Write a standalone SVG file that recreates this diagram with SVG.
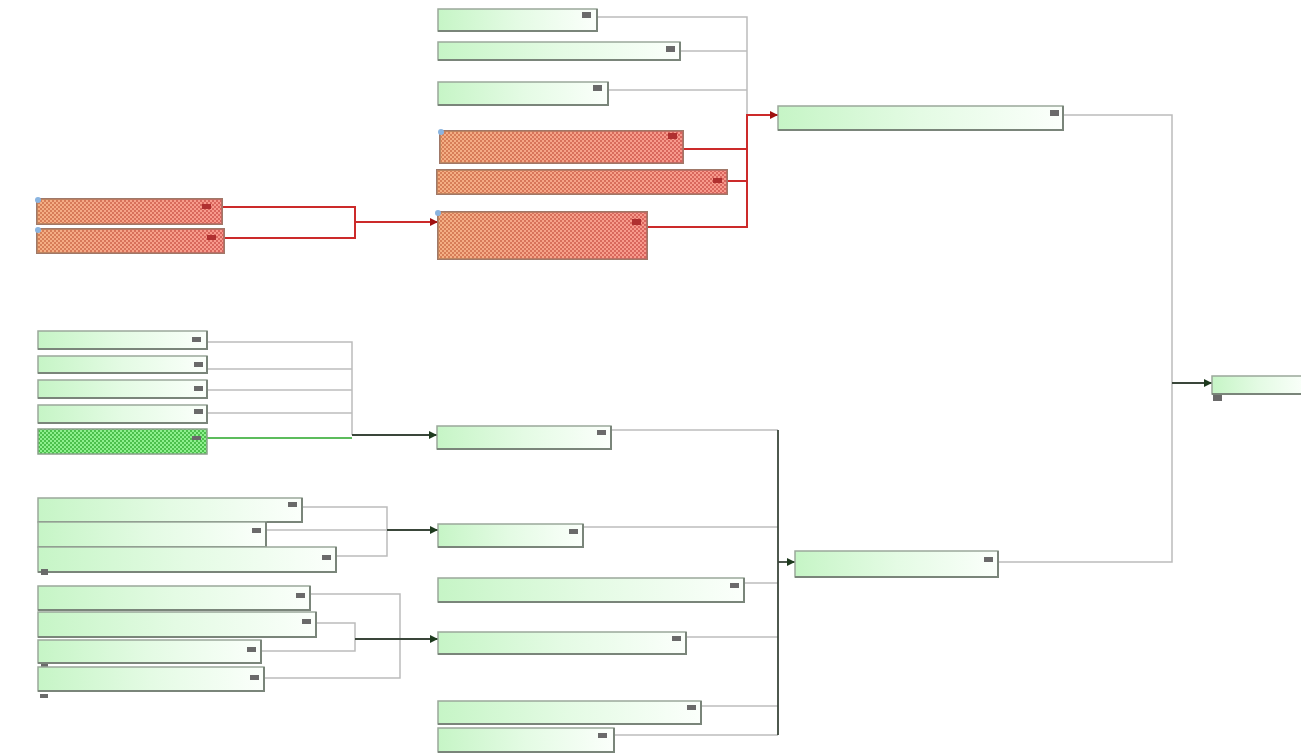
<svg xmlns="http://www.w3.org/2000/svg" width="1301" height="754" viewBox="0 0 1301 754">
<defs>
<linearGradient id="gg" x1="0" y1="0" x2="1" y2="0">
<stop offset="0" stop-color="#c6f5c6"/>
<stop offset="0.5" stop-color="#e4fbe4"/>
<stop offset="1" stop-color="#fbfffb"/>
</linearGradient>
<pattern id="rp" width="4" height="4" patternUnits="userSpaceOnUse">
<rect width="4" height="4" fill="#f5b8a0"/>
<rect width="2" height="2" fill="#c86e5c"/>
<rect x="2" y="2" width="2" height="2" fill="#c86e5c"/>
</pattern>
<linearGradient id="rg" x1="0" y1="0" x2="1" y2="0">
<stop offset="0" stop-color="#f2a050" stop-opacity="0.35"/>
<stop offset="1" stop-color="#ff5060" stop-opacity="0.3"/>
</linearGradient>
<pattern id="gp" width="4" height="4" patternUnits="userSpaceOnUse">
<rect width="4" height="4" fill="#8ef08e"/>
<rect width="2" height="2" fill="#4cc04c"/>
<rect x="2" y="2" width="2" height="2" fill="#4cc04c"/>
</pattern>
<marker id="ad" viewBox="0 0 8 8" refX="8" refY="4" markerWidth="8" markerHeight="8" markerUnits="userSpaceOnUse" orient="auto">
<path d="M0,0 L8,4 L0,8 z" fill="#1e3a1e"/>
</marker>
<marker id="ar" viewBox="0 0 8 8" refX="8" refY="4" markerWidth="8" markerHeight="8" markerUnits="userSpaceOnUse" orient="auto">
<path d="M0,0 L8,4 L0,8 z" fill="#a01010"/>
</marker>
</defs>
<style>
.g{fill:url(#gg);stroke:#9aa89a;stroke-width:1.5}
.r{fill:url(#rp);stroke:#a07868;stroke-width:2}
.rov{fill:url(#rg)}
.gh{fill:url(#gp);stroke:#8aa08a;stroke-width:1.5}
.sh{fill:none;stroke:#7a857a;stroke-width:2}
.ic{fill:#6a6a6a}
.c{fill:none;stroke:#bcbcbc;stroke-width:1.5}
.cr{fill:none;stroke:#cc2a2a;stroke-width:2}
.cd{fill:none;stroke:#3a463a;stroke-width:1.8}
.cgr{fill:none;stroke:#5cbc5c;stroke-width:1.8}
.dot{fill:#8ab4e0}
</style>
<rect width="1301" height="754" fill="#ffffff"/>

<g id="connectors">
<path class="c" d="M597,17 H747 V115"/>
<path class="c" d="M680,51 H747"/>
<path class="c" d="M608,90 H747"/>
<path class="cr" d="M683,149 H747"/>
<path class="cr" d="M727,181 H747"/>
<path class="cr" d="M647,227 H747 V115 H778" marker-end="url(#ar)"/>
<path class="cr" d="M222,207 H355 V238 H224"/>
<path class="cr" d="M355,222 H438" marker-end="url(#ar)"/>
<path class="c" d="M1063,115 H1172 V562 H998"/>
<path class="cd" d="M1172,383 H1212" marker-end="url(#ad)"/>
<path class="c" d="M207,342 H352 V435"/>
<path class="c" d="M207,369 H352"/>
<path class="c" d="M207,390 H352"/>
<path class="c" d="M207,413 H352"/>
<path class="cgr" d="M207,438 H352"/>
<path class="cd" d="M352,435 H437" marker-end="url(#ad)"/>
<path class="c" d="M302,507 H387 V556 H336"/>
<path class="c" d="M266,530 V547"/>
<path class="c" d="M266,530 H387"/>
<path class="cd" d="M387,530 H438" marker-end="url(#ad)"/>
<path class="c" d="M310,594 H400 V678 H264"/>
<path class="c" d="M316,623 H355 V651 H261"/>
<path class="cd" d="M355,639 H438" marker-end="url(#ad)"/>
<path class="c" d="M611,430 H778"/>
<path class="c" d="M583,527 H778"/>
<path class="c" d="M744,583 H778"/>
<path class="c" d="M686,637 H778"/>
<path class="c" d="M701,706 H778"/>
<path class="c" d="M614,735 H778"/>
<path class="cd" d="M778,430 V735" stroke="#7a7a7a"/>
<path class="cd" d="M778,562 H795" marker-end="url(#ad)"/>
</g>

<g id="n1"><rect class="g" x="438" y="9" width="159" height="22"/><path class="sh" d="M438,31 H597 V9"/><rect class="ic" x="582" y="12" width="9" height="6"/></g>
<g id="n2"><rect class="g" x="438" y="42" width="242" height="18"/><path class="sh" d="M438,60 H680 V42"/><rect class="ic" x="666" y="46" width="9" height="6"/></g>
<g id="n3"><rect class="g" x="438" y="82" width="170" height="23"/><path class="sh" d="M438,105 H608 V82"/><rect class="ic" x="593" y="85" width="9" height="6"/></g>
<g id="r1"><rect class="r" x="440" y="131" width="243" height="32"/><rect class="rov" x="440" y="131" width="243" height="32"/><circle class="dot" cx="441" cy="132" r="3"/><rect fill="#b03030" x="668" y="133" width="9" height="6"/></g>
<g id="r2"><rect class="r" x="437" y="170" width="290" height="24"/><rect class="rov" x="437" y="170" width="290" height="24"/><rect fill="#b03030" x="713" y="178" width="9" height="5"/></g>
<g id="r3"><rect class="r" x="438" y="212" width="209" height="47"/><rect class="rov" x="438" y="212" width="209" height="47"/><circle class="dot" cx="438" cy="213" r="3"/><rect fill="#b03030" x="632" y="219" width="9" height="6"/></g>
<g id="l1"><rect class="r" x="37" y="199" width="185" height="25"/><rect class="rov" x="37" y="199" width="185" height="25"/><circle class="dot" cx="38" cy="200" r="3"/><rect fill="#b03030" x="202" y="204" width="9" height="5"/></g>
<g id="l2"><rect class="r" x="37" y="229" width="187" height="24"/><rect class="rov" x="37" y="229" width="187" height="24"/><circle class="dot" cx="38" cy="230" r="3"/><rect fill="#b03030" x="207" y="235" width="9" height="5"/></g>

<g id="t"><rect class="g" x="778" y="106" width="285" height="24"/><path class="sh" d="M778,130 H1063 V106"/><rect class="ic" x="1050" y="110" width="9" height="6"/></g>
<g id="root"><rect class="g" x="1212" y="376" width="95" height="18"/><path class="sh" d="M1212,394 H1301"/><rect class="ic" x="1213" y="395" width="9" height="6"/></g>

<g id="g1"><rect class="g" x="38" y="331" width="169" height="18"/><path class="sh" d="M38,349 H207 V331"/><rect class="ic" x="192" y="337" width="9" height="5"/></g>
<g id="g2"><rect class="g" x="38" y="356" width="169" height="17"/><path class="sh" d="M38,373 H207 V356"/><rect class="ic" x="194" y="362" width="9" height="5"/></g>
<g id="g3"><rect class="g" x="38" y="380" width="169" height="18"/><path class="sh" d="M38,398 H207 V380"/><rect class="ic" x="194" y="386" width="9" height="5"/></g>
<g id="g4"><rect class="g" x="38" y="405" width="169" height="18"/><path class="sh" d="M38,423 H207 V405"/><rect class="ic" x="194" y="409" width="9" height="5"/></g>
<g id="g5"><rect class="gh" x="38" y="429" width="169" height="25"/><rect class="ic" x="192" y="436" width="9" height="4"/></g>
<g id="m1"><rect class="g" x="437" y="426" width="174" height="23"/><path class="sh" d="M437,449 H611 V426"/><rect class="ic" x="597" y="430" width="9" height="5"/></g>

<g id="b1"><rect class="g" x="38" y="498" width="264" height="24"/><path class="sh" d="M38,522 H302 V498"/><rect class="ic" x="288" y="502" width="9" height="5"/></g>
<g id="b2"><rect class="g" x="38" y="522" width="228" height="25"/><path class="sh" d="M38,547 H266 V522"/><rect class="ic" x="252" y="528" width="9" height="5"/></g>
<g id="b3"><rect class="g" x="38" y="547" width="298" height="25"/><path class="sh" d="M38,572 H336 V547"/><rect class="ic" x="322" y="555" width="9" height="5"/><rect class="ic" x="41" y="569" width="7" height="6"/></g>
<g id="b4"><rect class="g" x="38" y="586" width="272" height="24"/><path class="sh" d="M38,610 H310 V586"/><rect class="ic" x="296" y="593" width="9" height="5"/></g>
<g id="b5"><rect class="g" x="38" y="612" width="278" height="25"/><path class="sh" d="M38,637 H316 V612"/><rect class="ic" x="302" y="619" width="9" height="5"/></g>
<g id="b6"><rect class="g" x="38" y="640" width="223" height="23"/><path class="sh" d="M38,663 H261 V640"/><rect class="ic" x="247" y="647" width="9" height="5"/><rect class="ic" x="41" y="664" width="7" height="6"/></g>
<g id="b7"><rect class="g" x="38" y="667" width="226" height="24"/><path class="sh" d="M38,691 H264 V667"/><rect class="ic" x="250" y="675" width="9" height="5"/><rect class="ic" x="40" y="694" width="8" height="4"/></g>

<g id="m2"><rect class="g" x="438" y="524" width="145" height="23"/><path class="sh" d="M438,547 H583 V524"/><rect class="ic" x="569" y="529" width="9" height="5"/></g>
<g id="m3"><rect class="g" x="438" y="578" width="306" height="24"/><path class="sh" d="M438,602 H744 V578"/><rect class="ic" x="730" y="583" width="9" height="5"/></g>
<g id="m4"><rect class="g" x="438" y="632" width="248" height="22"/><path class="sh" d="M438,654 H686 V632"/><rect class="ic" x="672" y="636" width="9" height="5"/></g>
<g id="m5"><rect class="g" x="438" y="701" width="263" height="23"/><path class="sh" d="M438,724 H701 V701"/><rect class="ic" x="687" y="705" width="9" height="5"/></g>
<g id="m6"><rect class="g" x="438" y="728" width="176" height="24"/><path class="sh" d="M438,752 H614 V728"/><rect class="ic" x="598" y="733" width="9" height="5"/></g>
<g id="p"><rect class="g" x="795" y="551" width="203" height="26"/><path class="sh" d="M795,577 H998 V551"/><rect class="ic" x="984" y="557" width="9" height="5"/></g>
</svg>
